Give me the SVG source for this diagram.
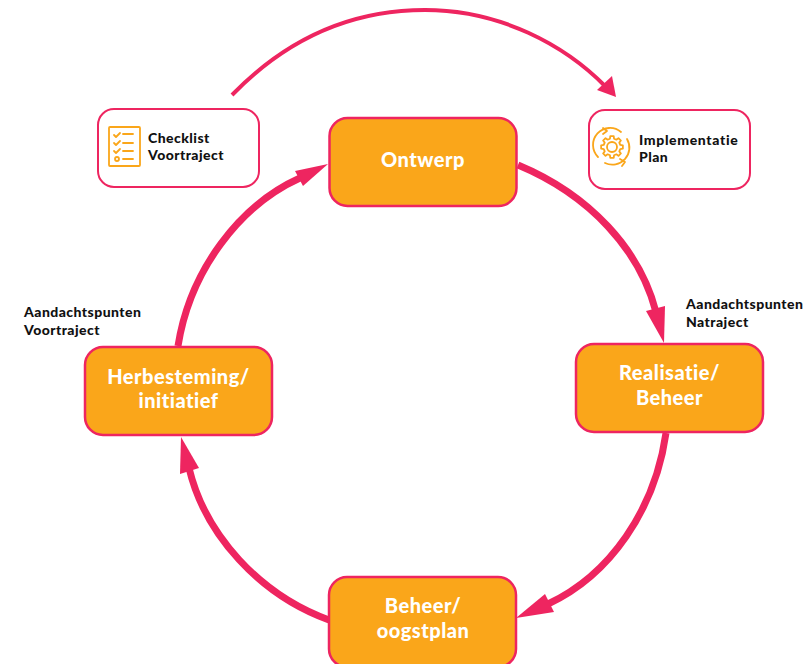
<svg xmlns="http://www.w3.org/2000/svg" width="809" height="664" viewBox="0 0 809 664">
<style>
.o{fill:#faa61a;stroke:#ee2560;stroke-width:2.5}
.w{fill:#fff;stroke:#ee2560;stroke-width:2}
.c{fill:none;stroke:#ee2560;stroke-width:7}
.a{fill:#ee2560}
text{font-family:Lato,"Liberation Sans",sans-serif;font-weight:900}
.t{fill:#fff;font-size:20px;text-anchor:middle;letter-spacing:.5px}
.s{fill:#111;font-size:14px;letter-spacing:.45px}
.i{fill:none;stroke:#faa61a;stroke-width:1.8;stroke-linecap:round;stroke-linejoin:round}
</style>
<rect width="809" height="664" fill="#fff"/>
<g id="connectors">
<path d="M232 95C300 25 370 10 425 10C500 10 565 45 606 87" fill="none" stroke="#ee2560" stroke-width="4"/>
<path class="a" d="M616 97L597 90L612 76Z"/>
<path class="c" d="M518 165C590 195 640 250 656 312"/>
<path class="a" d="M664 343L646 311L665 306Z"/>
<path class="c" d="M666 433C655 510 610 575 548 604"/>
<path class="a" d="M516 618L545 594L554 612Z"/>
<path class="c" d="M329 620C260 595 205 535 189 468"/>
<path class="a" d="M181 437L199 468L180 474Z"/>
<path class="c" d="M178 346C190 270 240 205 300 178"/>
<path class="a" d="M328 164L303 186L295 171Z"/>
</g>
<g id="ontwerp"><rect class="o" x="329.500" y="118" width="187" height="88" rx="18"/><text class="t" x="423" y="167">Ontwerp</text></g>
<g id="realisatie"><rect class="o" x="576" y="344" width="187" height="88" rx="18"/><text class="t" x="669.500" y="380">Realisatie/</text><text class="t" x="669.500" y="405">Beheer</text></g>
<g id="beheer"><rect class="o" x="329" y="577" width="187" height="90" rx="18"/><text class="t" x="423" y="613">Beheer/</text><text class="t" x="423" y="638">oogstplan</text></g>
<g id="herbesteming"><rect class="o" x="85" y="347" width="187" height="88" rx="18"/><text class="t" x="178.500" y="384">Herbesteming/</text><text class="t" x="178.500" y="408">initiatief</text></g>
<g id="checklist"><rect class="w" x="98" y="109" width="161" height="78" rx="16"/>
<rect class="i" x="109" y="127" width="31" height="39" rx="1"/>
<path class="i" d="M114 135l2 2 4-4M123 134h10M114 143l2 2 4-4M123 143h10M114 151l2 2 4-4M123 151h10M123 159h10"/><circle class="i" cx="117" cy="159" r="2"/>
<text class="s" x="148" y="143">Checklist</text><text class="s" x="148" y="160">Voortraject</text></g>
<g id="implementatie"><rect class="w" x="589" y="110" width="161" height="79" rx="16"/>
<g transform="translate(612 147)">
<path class="i" d="M-14 10A17 17 0 0 1 9 -15M15 -8A17 17 0 0 1 -7 16M-9 -19l4 3-4 3M8 12l5 3-3 4" stroke-width="1.4"/>
<path class="i" d="M8.250 -2.060L10.860 -1.720L10.860 1.720L8.250 2.060L7.290 4.380L8.900 6.470L6.470 8.900L4.380 7.290L2.060 8.250L1.720 10.860L-1.720 10.860L-2.060 8.250L-4.380 7.290L-6.470 8.900L-8.900 6.470L-7.290 4.380L-8.250 2.060L-10.860 1.720L-10.860 -1.720L-8.250 -2.060L-7.290 -4.380L-8.900 -6.470L-6.470 -8.900L-4.380 -7.290L-2.060 -8.250L-1.720 -10.860L1.720 -10.860L2.060 -8.250L4.380 -7.290L6.470 -8.900L8.900 -6.470L7.290 -4.380Z"/>
<circle class="i" r="5"/></g>
<text class="s" x="639" y="145" style="letter-spacing:.65px">Implementatie</text><text class="s" x="639" y="162">Plan</text></g>
<g id="note-voortraject"><text class="s" x="24" y="317">Aandachtspunten</text><text class="s" x="24" y="335">Voortraject</text></g>
<g id="note-natraject"><text class="s" x="686" y="309">Aandachtspunten</text><text class="s" x="686" y="327">Natraject</text></g>
</svg>
